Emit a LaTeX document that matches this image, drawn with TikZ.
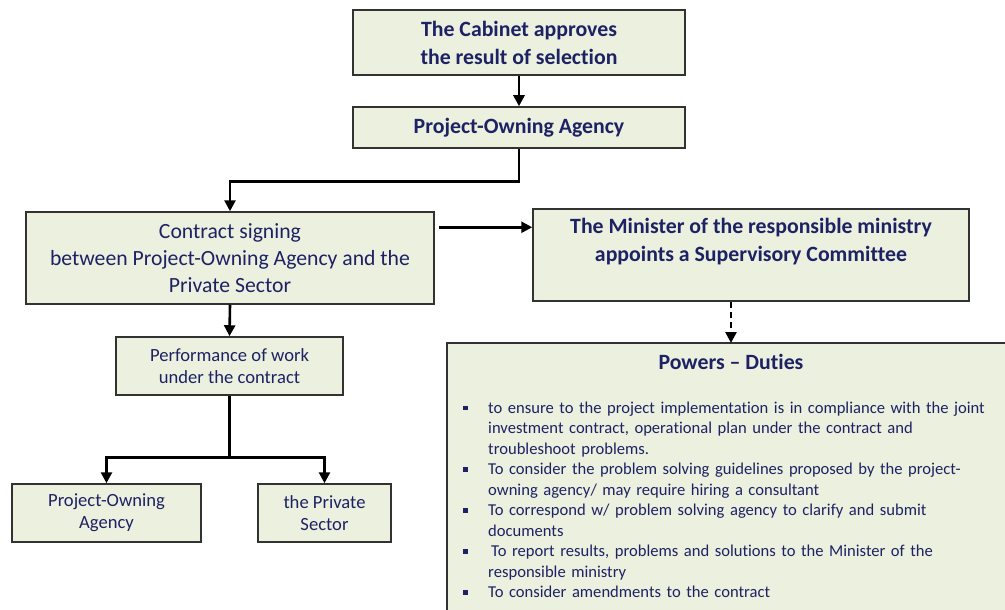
\documentclass[tikz,border=0pt]{standalone}
\usepackage{fontspec}
\setmainfont[RawFeature=-liga]{Carlito}
\usetikzlibrary{arrows.meta,calc}
\definecolor{navy}{RGB}{30,34,100}
\definecolor{boxfill}{RGB}{235,241,222}
\definecolor{boxline}{RGB}{50,50,50}
\begin{document}
\begin{tikzpicture}[x=1pt,y=-1pt,
  box/.style={draw=boxline, fill=boxfill, line width=1.5pt, inner sep=0pt, text=navy, align=center},
  bigbold/.style={font=\bfseries\fontsize{21.8}{28}\selectfont},
  bigreg/.style={font=\fontsize{21.7}{27}\selectfont},
  midreg/.style={font=\fontsize{18.6}{22}\selectfont},
  arr/.style={line width=2.6pt, -{Triangle[length=11pt,width=11pt]}},
  dasharr/.style={line width=2.6pt, dash pattern=on 6pt off 4pt, -{Triangle[length=11pt,width=11pt]}},
  itemtext/.style={anchor=base west, inner sep=0pt, text=navy, align=left, text width=530pt, font=\fontsize{16.6}{20.5}\selectfont},
  bul/.style={fill=navy, draw=none, inner sep=0pt, minimum size=4.5pt}
]
\useasboundingbox (0,0) rectangle (1005,610);

% boxes
\node[box, bigbold, minimum width=332, minimum height=65] (cab) at (519,42.5) {The Cabinet approves\\the result of selection};
\node[box, bigbold, minimum width=332, minimum height=41] (poa) at (519,127.5) {Project-Owning Agency};
\node[box, bigreg, minimum width=408, minimum height=92] (con) at (230,258) {Contract signing\\ between Project-Owning Agency and the\\ Private Sector};
\node[box, minimum width=436, minimum height=92] (min) at (751,255) {};
\node[text=navy, bigbold, align=center, inner sep=0pt] (mintext) at (751,241.5) {The Minister of the responsible ministry\\appoints a Supervisory Committee};
% Powers box runs off the right and bottom edges of the picture
\fill[boxfill] (447,343) rectangle (1005,610);
\draw[boxline, line width=1.5pt] (447,610) -- (447,343) -- (1005,343);
\coordinate (powtop) at (731,343);
\node[text=navy, bigbold, inner sep=0pt] (powt) at (731,362) {Powers -- Duties};
\node[box, midreg, minimum width=227, minimum height=58] (perf) at (229.5,366) {Performance of work\\under the contract};
\node[box, midreg, minimum width=189, minimum height=58] (poa2) at (106.5,513) {Project-Owning\\Agency};
\node[box, midreg, minimum width=133, minimum height=58] (priv) at (324.5,513) {the Private\\Sector};

% bullet list
\node[itemtext] (i1) at (488,413) {to ensure to the project implementation is in compliance with the joint\\investment contract, operational plan under the contract and\\troubleshoot problems.};
\node[itemtext] (i2) at (488,474.5) {To consider the problem solving guidelines proposed by the project-\\owning agency/ may require hiring a consultant};
\node[itemtext] (i3) at (488,515.5) {To correspond w/ problem solving agency to clarify and submit\\documents};
\node[itemtext] (i4) at (488,556.5) {\hspace{3pt}To report results, problems and solutions to the Minister of the\\responsible ministry};
\node[itemtext] (i5) at (488,597.5) {To consider amendments to the contract};
\node[bul] (b1) at (465.5,408) {};
\node[bul] (b2) at (465.5,469.5) {};
\node[bul] (b3) at (465.5,510.5) {};
\node[bul] (b4) at (465.5,551.5) {};
\node[bul] (b5) at (465.5,592.5) {};

% connectors
\draw[arr] (cab.south) -- (poa.north);
\draw[arr] (poa.south) -- ++(0,33) -| (con.north);
\draw[arr] ([xshift=4pt,yshift=-16pt]con.north east) -- ([yshift=-16pt]con.north east -| min.west);
\draw[dasharr] (powtop |- min.south) -- (powtop);
\draw[arr] (con.south) -- (perf.north);
\draw[arr] (perf.south) -- ++(0,62) -| (poa2.north);
\draw[arr] (perf.south) -- ++(0,62) -| (priv.north);
\end{tikzpicture}
\end{document}
